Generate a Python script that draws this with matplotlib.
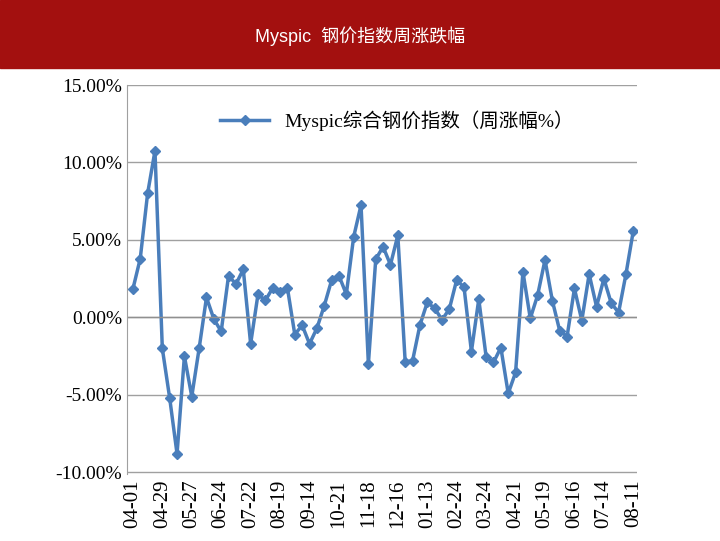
import matplotlib
matplotlib.use("Agg")
import matplotlib.pyplot as plt
import numpy as np

values = [1.83, 3.8, 8.0, 10.75, -2.0, -5.2, -8.8, -2.5, -5.1, -2.0, 1.29, -0.1, -0.9, 2.7, 2.15, 3.1,
          -1.7, 1.5, 1.1, 1.9, 1.65, 1.9, -1.1, -0.5, -1.7, -0.7, 0.75, 2.4, 2.7, 1.5, 5.2, 7.25,
          -3.0, 3.76, 4.56, 3.4, 5.3, -2.86, -2.8, -0.5, 0.97, 0.6, -0.15, 0.54, 2.43, 1.94, -2.2,
          1.18, -2.54, -2.9, -1.94, -4.9, -3.55, 2.95, -0.06, 1.44, 3.72, 1.08, -0.86, -1.23, 1.87,
          -0.2, 2.8, 0.7, 2.5, 0.92, 0.32, 2.8, 5.6]
tick_labels = ["04-01", "04-29", "05-27", "06-24", "07-22", "08-19", "09-14", "10-21", "11-18",
               "12-16", "01-13", "02-24", "03-24", "04-21", "05-19", "06-16", "07-14", "08-11"]
title = "Myspic  钢价指数周涨跌幅"
legend_label = "Myspic综合钢价指数（周涨幅%）"

fonts = ['Liberation Serif', 'Noto Sans CJK SC', 'DejaVu Sans']
plt.rcParams['font.family'] = fonts

fig = plt.figure(figsize=(7.2, 5.41), dpi=100)
fig.patches.append(matplotlib.patches.Rectangle((0, 1 - 68/541), 1, 68/541, transform=fig.transFigure,
                                                 color='#a3100f', zorder=0))
fig.text(0.5, 1 - 36/541, title, color='white', ha='center', va='center', fontsize=13,
         family=['Liberation Sans', 'Noto Sans CJK SC'])

ax = fig.add_axes([127/720, 1 - 474/541, 510/720, 389/541])
x = np.arange(len(values))
ax.plot(x, values, color='#4a7ebb', lw=2.5, marker='D', ms=5, label=legend_label)
ax.set_ylim(-10.1, 15)
ax.set_yticks([-10, -5, 0, 5, 10, 15])
ax.set_yticklabels([f"{v:.2f}%" for v in [-10, -5, 0, 5, 10, 15]], fontsize=14)
ax.set_xlim(-0.8, len(values) - 0.5)
pos = np.linspace(0, len(values) - 1, len(tick_labels))
ax.set_xticks(pos)
ax.set_xticklabels(tick_labels, rotation=90, fontsize=15)
ax.tick_params(axis='x', length=0, pad=4)
ax.tick_params(axis='y', length=0)
ax.grid(axis='y', color='#a0a0a0', lw=1)
ax.axhline(0, color='#909090', lw=1)
for s in ['top', 'right']:
    ax.spines[s].set_visible(False)
ax.spines['bottom'].set_visible(False)
ax.spines['left'].set_color('#a0a0a0')
ax.legend(loc='upper center', bbox_to_anchor=(0.53, 0.98), frameon=True, fontsize=14,
          handlelength=2.5)
leg = ax.get_legend()
leg.get_frame().set_edgecolor('white'); leg.get_frame().set_facecolor('white'); leg.get_frame().set_alpha(1)
fig.savefig("out.png", dpi=100)
